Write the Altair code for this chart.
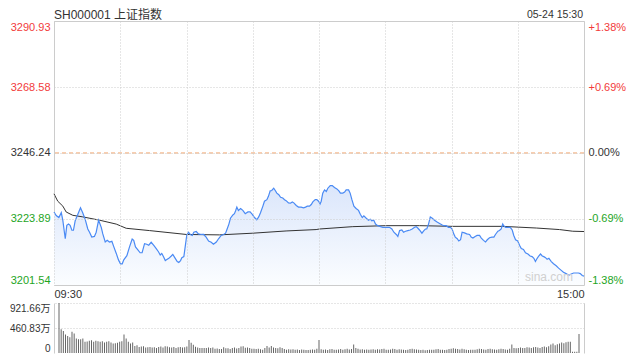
import altair as alt
import pandas as pd

# ---------------- data ----------------
title_text = "SH000001 上证指数"
stamp_text = "05-24 15:30"
watermark = "sina.com"
prev_close = 3246.24
price_ticks = [3201.54, 3223.89, 3246.24, 3268.58, 3290.93]
pct_labels = ["-1.38%", "-0.69%", "0.00%", "+0.69%", "+1.38%"]
time_ticks = [0, 30, 60, 90, 120, 150, 180, 210, 240]
time_label_at = [0, 240]
time_labels = ["09:30", "15:00"]
vol_ticks = [0, 460.83, 921.66]
vol_labels = ["0", "460.83万", "921.66万"]

price_t = [
    0, 1.0, 2.2, 3.3, 4.0, 5.1, 5.8, 6.6, 7.3, 8.1,
    8.8, 9.6, 10.8, 12.0, 13.0, 14.1, 15.3, 16.1, 17.1, 18.3,
    19.1, 20.2, 21.4, 22.1, 23.2, 24.1, 25.1, 26.2, 27.1, 28.2,
    29.2, 30.1, 30.9, 31.6, 33.0, 34.2, 35.4, 36.1, 36.9, 37.9,
    39.0, 39.9, 41.0, 42.0, 42.9, 44.0, 45.1, 46.3, 47.3, 48.1,
    48.8, 49.6, 50.4, 51.1, 52.0, 53.1, 53.8, 54.9, 55.8, 56.5,
    57.3, 57.9, 58.8, 59.4, 60.1, 60.9, 61.7, 62.6, 63.3, 64.4,
    65.4, 66.7, 67.8, 68.9, 70.0, 71.2, 72.2, 73.5, 74.5, 75.7,
    76.8, 77.7, 78.4, 79.2, 79.9, 81.0, 81.7, 82.2, 82.8, 83.5,
    84.5, 85.5, 86.6, 87.8, 88.8, 89.8, 90.8, 91.8, 92.7, 93.5,
    94.6, 95.3, 96.4, 97.1, 97.9, 98.6, 99.5, 100.2, 100.9, 101.8,
    102.6, 103.6, 104.4, 105.1, 106.2, 107.1, 107.9, 108.6, 109.7, 110.7,
    111.9, 113.0, 113.9, 114.7, 115.7, 116.5, 117.2, 118.3, 119.0, 119.8,
    120.5, 121.0, 121.7, 122.5, 123.3, 124.0, 125.1, 126.0, 127.0, 128.1,
    129.0, 129.7, 130.8, 131.6, 132.3, 133.4, 134.1, 134.9, 135.8, 136.8,
    137.9, 138.7, 139.6, 140.3, 141.4, 142.4, 143.2, 143.9, 144.8, 145.6,
    146.6, 147.9, 148.9, 150.0, 150.9, 151.9, 153.0, 153.9, 155.0, 155.7,
    156.5, 157.5, 158.3, 159.2, 160.2, 161.3, 162.2, 163.3, 164.0, 164.7,
    165.5, 166.6, 167.5, 168.2, 168.8, 169.6, 170.4, 171.3, 172.3, 173.3,
    174.6, 175.6, 176.5, 177.6, 178.6, 179.5, 180.3, 181.0, 181.7, 182.6,
    183.3, 184.1, 184.8, 185.9, 186.9, 188.2, 188.9, 189.7, 190.7, 191.6,
    192.7, 193.5, 194.5, 195.4, 196.2, 197.2, 198.3, 199.2, 199.9, 201.0,
    201.7, 202.5, 203.2, 203.6, 204.5, 205.5, 206.6, 207.5, 208.2, 209.0,
    210.0, 210.8, 211.6, 212.6, 213.5, 214.6, 215.6, 216.5, 217.3, 218.0,
    218.8, 219.5, 220.3, 221.1, 221.8, 222.6, 223.3, 224.1, 225.2, 226.2,
    227.4, 228.5, 229.7, 230.7, 231.9, 233.1, 234.2, 235.3, 236.5, 237.5,
    238.3, 239.2, 240,
]
price_v = [
    3226.27, 3225.04, 3224.38, 3226.03, 3223.39, 3217.20, 3221.73, 3222.16, 3221.73, 3220.07,
    3220.07, 3223.29, 3225.47, 3227.69, 3226.03, 3223.82, 3220.50, 3219.41, 3217.76, 3217.99,
    3219.41, 3223.49, 3221.07, 3218.85, 3216.10, 3216.66, 3216.10, 3216.33, 3214.44, 3212.23,
    3210.04, 3208.72, 3208.72, 3210.04, 3211.47, 3214.44, 3217.09, 3216.66, 3214.44, 3213.55,
    3212.46, 3212.46, 3215.54, 3215.34, 3215.01, 3216.00, 3215.01, 3213.88, 3212.79, 3211.70,
    3212.23, 3211.14, 3209.81, 3210.14, 3210.57, 3211.36, 3211.89, 3210.57, 3209.48, 3209.15,
    3209.81, 3210.80, 3211.14, 3214.44, 3218.32, 3219.41, 3218.65, 3218.32, 3219.41, 3219.64,
    3218.85, 3218.65, 3218.65, 3217.76, 3216.43, 3216.00, 3215.34, 3216.10, 3217.20, 3218.32,
    3218.65, 3219.08, 3220.50, 3222.16, 3224.15, 3225.27, 3225.70, 3226.60, 3227.92, 3226.80,
    3227.46, 3226.80, 3225.70, 3226.27, 3226.27, 3225.47, 3224.38, 3223.62, 3224.61, 3226.03,
    3228.25, 3229.91, 3230.44, 3231.56, 3233.42, 3233.55, 3234.31, 3233.55, 3232.66, 3232.09,
    3231.23, 3231.00, 3230.44, 3230.11, 3229.35, 3229.25, 3229.68, 3229.35, 3228.45, 3227.92,
    3227.92, 3227.69, 3227.92, 3228.25, 3228.25, 3228.78, 3229.68, 3230.44, 3230.44, 3229.91,
    3229.01, 3229.91, 3232.66, 3233.75, 3233.22, 3234.31, 3235.21, 3235.21, 3234.54, 3234.08,
    3233.42, 3232.66, 3232.66, 3232.99, 3233.75, 3233.75, 3232.66, 3230.44, 3228.25, 3227.46,
    3226.80, 3225.47, 3224.38, 3224.94, 3224.15, 3223.49, 3223.82, 3223.29, 3223.49, 3222.16,
    3221.63, 3221.30, 3221.07, 3221.07, 3221.07, 3221.07, 3220.50, 3219.41, 3218.65, 3217.99,
    3219.97, 3220.17, 3219.41, 3219.75, 3219.97, 3220.17, 3220.50, 3221.07, 3221.30, 3220.83,
    3220.17, 3219.08, 3219.97, 3220.50, 3220.50, 3222.16, 3224.61, 3224.15, 3223.49, 3222.96,
    3222.39, 3221.96, 3221.63, 3221.63, 3221.07, 3221.07, 3220.50, 3218.85, 3217.76, 3217.20,
    3216.43, 3216.86, 3219.41, 3219.18, 3218.85, 3218.65, 3217.76, 3217.43, 3217.99, 3218.32,
    3218.32, 3217.43, 3216.66, 3216.10, 3216.86, 3217.53, 3217.76, 3217.76, 3218.65, 3219.75,
    3219.97, 3220.50, 3222.16, 3221.63, 3221.07, 3221.07, 3221.07, 3220.17, 3218.32, 3216.86,
    3216.43, 3215.01, 3213.88, 3213.55, 3212.46, 3212.03, 3211.36, 3211.14, 3210.57, 3209.48,
    3210.57, 3211.36, 3212.03, 3211.36, 3211.14, 3210.80, 3210.24, 3210.57, 3209.48, 3208.72,
    3208.06, 3207.26, 3206.50, 3205.84, 3205.40, 3204.85, 3205.28, 3205.61, 3205.61, 3205.61,
    3205.40, 3204.75, 3204.56,
]

avg_t = [0, 1.7, 4.0, 5.5, 8.5, 13.0, 20.6, 28.2, 32.7, 43.2, 59.9, 74.9, 90.0,
         105.1, 118.7, 120.2, 135.3, 150.4, 165.5, 180.6, 203.1, 218.4, 228.9, 234.9, 240]
avg_v = [3232.42, 3229.91, 3228.25, 3226.27, 3225.14, 3224.61, 3223.49, 3222.16, 3220.74,
         3219.97, 3218.65, 3218.51, 3219.08, 3219.84, 3220.31, 3220.50, 3221.30, 3221.63,
         3221.63, 3221.40, 3221.40, 3220.83, 3220.31, 3219.75, 3219.64]

# volume per minute, in 万
vol = [
    921.66, 436, 405, 343, 312, 290, 392, 361, 268, 255,
    255, 268, 206, 212, 224, 237, 206, 224, 218, 206,
    218, 193, 206, 218, 193, 174, 180, 187, 206, 218,
    343, 268, 206, 174, 193, 131, 143, 112, 118, 124,
    100, 106, 112, 100, 106, 94, 112, 118, 100, 124,
    118, 106, 100, 112, 94, 106, 112, 100, 106, 118,
    240, 190, 150, 114, 100, 90, 94, 90, 94, 100,
    90, 100, 80, 84, 76, 76, 106, 86, 86, 76,
    90, 100, 84, 90, 120, 124, 96, 100, 90, 80,
    80, 76, 80, 70, 62, 90, 130, 100, 130, 100,
    94, 86, 106, 90, 76, 62, 70, 66, 70, 62,
    66, 56, 66, 62, 56, 56, 62, 66, 62, 80,
    240, 70, 62, 66, 56, 70, 74, 62, 58, 66,
    74, 62, 70, 80, 66, 74, 156, 93, 80, 66,
    70, 62, 66, 62, 66, 70, 62, 70, 66, 74,
    80, 62, 58, 66, 80, 74, 62, 70, 66, 62,
    56, 62, 74, 80, 70, 66, 62, 56, 62, 50,
    56, 62, 58, 62, 70, 74, 62, 58, 56, 62,
    74, 80, 86, 80, 74, 66, 80, 70, 62, 56,
    62, 58, 62, 70, 80, 74, 66, 62, 74, 80,
    70, 66, 62, 70, 80, 74, 66, 62, 80, 156,
    90, 86, 94, 100, 90, 94, 106, 100, 94, 106,
    112, 100, 94, 112, 118, 106, 124, 156, 174, 143,
    162, 174, 193, 180, 200, 206, 206, 25, 25, 25,
    349,
]

# ---------------- styling ----------------
FONT = "Liberation Sans, Noto Sans CJK SC, sans-serif"
W, H1, H2 = 530, 264, 50
RED, GREEN, BLACK = "#f23b3b", "#1ea51e", "#333333"
GRID = "#cccccc"
BLUE = "#4a8af4"

price_df = pd.DataFrame({"t": price_t, "p": price_v})
avg_df = pd.DataFrame({"t": avg_t, "a": avg_v})
vol_df = pd.DataFrame({"t": list(range(len(vol))), "v": vol})


def lookup_expr(vals, labels):
    return "".join(f"datum.value == {v} ? '{l}' : " for v, l in zip(vals, labels)) + "''"


color_cond = {
    "condition": [
        {"test": f"datum.value > {prev_close}", "value": RED},
        {"test": f"datum.value < {prev_close}", "value": GREEN},
    ],
    "value": BLACK,
}

xscale = alt.Scale(domain=[0, 240], nice=False, zero=False)
yscale = alt.Scale(domain=[price_ticks[0], price_ticks[-1]], nice=False, zero=False)

x_axis = alt.Axis(values=time_ticks, grid=True, gridColor=GRID, gridDash=[1, 2],
                  domain=False, ticks=False, tickSize=0,
                  labelExpr=lookup_expr(time_label_at, time_labels),
                  labelFlush=True, labelOverlap=False, labelPadding=3, labelFontSize=11,
                  labelColor=BLACK, labelFont=FONT, title=None, zindex=1)
y_left = alt.Axis(values=price_ticks, orient="left", grid=True, gridColor=GRID, gridDash=[1, 2],
                  domain=False, ticks=False, tickSize=0, labelFlush=True, labelOverlap=False,
                  labelPadding=4, labelFontSize=11, labelColor=color_cond, labelFont=FONT,
                  format=".2f", title=None, zindex=1)
y_right = alt.Axis(values=price_ticks, orient="right", grid=False, domain=False, ticks=False,
                   tickSize=0, labelFlush=True, labelOverlap=False, labelPadding=4,
                   labelFontSize=11, labelColor=color_cond, labelFont=FONT,
                   labelExpr=lookup_expr(price_ticks, pct_labels), title=None)

area = alt.Chart(price_df).mark_area(
    fill=alt.Gradient(gradient="linear",
                      stops=[alt.GradientStop(color="#dbe6fb", offset=0),
                             alt.GradientStop(color="#fbfdff", offset=1)],
                      x1=0, x2=0, y1=0, y2=1)
).encode(
    x=alt.X("t:Q", scale=xscale, axis=x_axis),
    y=alt.Y("p:Q", scale=yscale, axis=y_left),
    y2=alt.datum(price_ticks[0]),
)

prev_rule = alt.Chart(pd.DataFrame({"p": [prev_close]})).mark_rule(
    color="#f2a065", strokeDash=[4, 3], strokeWidth=1
).encode(y=alt.Y("p:Q", scale=yscale, axis=None))

avg_line = alt.Chart(avg_df).mark_line(color="#333333", strokeWidth=1).encode(
    x=alt.X("t:Q", scale=xscale),
    y=alt.Y("a:Q", scale=yscale, axis=None),
)

price_line = alt.Chart(price_df).mark_line(color=BLUE, strokeWidth=1.2).encode(
    x=alt.X("t:Q", scale=xscale),
    y=alt.Y("p:Q", scale=yscale, axis=y_right),
)

text_df = pd.DataFrame({"s": [title_text], "r": [stamp_text], "w": [watermark]})
title_mark = alt.Chart(text_df).mark_text(align="left", baseline="middle", fontSize=12,
                                          font=FONT, color=BLACK).encode(
    x=alt.value(0), y=alt.value(-6), text="s:N")
stamp_mark = alt.Chart(text_df).mark_text(align="right", baseline="middle", fontSize=10.5,
                                          font=FONT, color=BLACK).encode(
    x=alt.value(W - 1), y=alt.value(-6), text="r:N")
wm_mark = alt.Chart(text_df).mark_text(align="right", baseline="bottom", fontSize=12,
                                       font=FONT, color="#d0d0d0").encode(
    x=alt.value(W - 11), y=alt.value(H1 - 1), text="w:N")

price_panel = alt.layer(
    area, prev_rule, avg_line, price_line, title_mark, stamp_mark, wm_mark
).resolve_axis(y="independent").properties(
    width=W, height=H1, view=alt.ViewBackground(stroke="#cccccc")
)

vscale = alt.Scale(domain=[0, vol_ticks[-1]], nice=False, zero=True)
v_left = alt.Axis(values=vol_ticks, orient="left", grid=False, domain=True, domainColor=GRID,
                  ticks=False, tickSize=0, labelFlush=True, labelOverlap=False, labelPadding=4,
                  labelFontSize=10, labelColor=BLACK, labelFont=FONT,
                  labelExpr=lookup_expr(vol_ticks, vol_labels), title=None)
v_right = alt.Axis(values=vol_ticks[1:], orient="right", grid=True, gridColor=GRID,
                   gridDash=[1, 2], domain=True, domainColor=GRID, ticks=False, tickSize=0,
                   labels=False, title=None)

bars = alt.Chart(vol_df).mark_bar(size=1, color="#666666").encode(
    x=alt.X("t:Q", scale=xscale, axis=None),
    y=alt.Y("v:Q", scale=vscale, axis=v_left),
)
bars_r = alt.Chart(vol_df).mark_bar(size=1, opacity=0).encode(
    x=alt.X("t:Q", scale=xscale, axis=None),
    y=alt.Y("v:Q", scale=vscale, axis=v_right),
)
vol_panel = alt.layer(bars, bars_r).resolve_axis(y="independent").properties(
    width=W, height=H2, view=alt.ViewBackground(stroke="transparent")
)

chart = alt.vconcat(price_panel, vol_panel, spacing=2).properties(
    padding={"left": 0, "top": 0, "right": 0, "bottom": 0},
    background="white",
)

chart.save("out.html", embed_options={"renderer": "svg", "actions": False})
